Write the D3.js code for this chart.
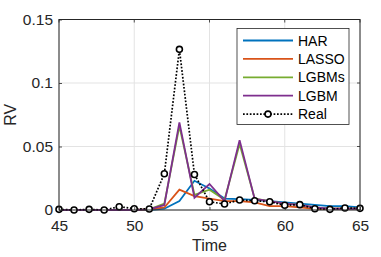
<!DOCTYPE html>
<html><head><meta charset="utf-8">
<script src="https://cdn.jsdelivr.net/npm/d3@7"></script>
<style>body{margin:0;background:#fff}svg{display:block}text{font-family:"Liberation Sans",Arial,sans-serif}</style>
</head><body><svg id="c" width="381" height="257"></svg>
<script>
const time = [45,46,47,48,49,50,51,52,53,54,55,56,57,58,59,60,61,62,63,64,65];
const har   = [0,0,0,0,0,0,0,0.001,0.007,0.023,0.017,0.009,0.0085,0.008,0.007,0.006,0.005,0.004,0.003,0.003,0.002];
const lasso = [0,0,0,0,0,0,0.0005,0.002,0.016,0.011,0.009,0.007,0.007,0.006,0.003,0.003,0.002,0.001,0.001,0.001,0.001];
const lgbms = [0,0,0,0,0,0,0.0005,0.005,0.066,0.012,0.016,0.008,0.052,0.009,0.007,0.005,0.004,0.002,0.001,0.001,0.001];
const lgbm  = [0,0,0,0,0,0,0.0005,0.004,0.069,0.0097,0.0205,0.007,0.055,0.0087,0.007,0.005,0.004,0.002,0.001,0.001,0.001];
const real  = [0.0005,0,0.0005,0,0.0026,0.001,0.0008,0.0286,0.1265,0.028,0.0065,0.0047,0.0079,0.0073,0.0065,0.0037,0.0042,0.001,0.0005,0.0016,0.0013];
const xTicks = [45,50,55,60,65];
const yTicks = [0,0.05,0.1,0.15];
const yTickLabels = ["0","0.05","0.1","0.15"];
const seriesNames = ["HAR","LASSO","LGBMs","LGBM","Real"];
const seriesColors = ["#0072BD","#D95319","#77AC30","#7E2F8E","#000000"];

const svg = d3.select("#c");
const L=59,R=360,T=19.5,B=210;
const x = d3.scaleLinear().domain([45,65]).range([L,R]);
const y = d3.scaleLinear().domain([0,0.15]).range([B,T]);
const ax = "#262626";

svg.append("g").selectAll("line").data(xTicks).join("line")
 .attr("x1",d=>x(d)).attr("x2",d=>x(d)).attr("y1",T).attr("y2",B)
 .attr("stroke","#e3e3e3").attr("stroke-width",1);
svg.append("g").selectAll("line").data(yTicks).join("line")
 .attr("y1",d=>y(d)).attr("y2",d=>y(d)).attr("x1",L).attr("x2",R)
 .attr("stroke","#e3e3e3").attr("stroke-width",1);

const series=[har,lasso,lgbms,lgbm];
const line = d3.line().x((d,i)=>x(time[i])).y(d=>y(d));
series.forEach((s,k)=>{
  svg.append("path").attr("d",line(s)).attr("fill","none")
   .attr("stroke",seriesColors[k]).attr("stroke-width",1.8).attr("stroke-linejoin","miter");
});
svg.append("path").attr("d",line(real)).attr("fill","none")
  .attr("stroke","#000").attr("stroke-width",1.7).attr("stroke-dasharray","1.7,1.7");
svg.append("g").selectAll("circle").data(real).join("circle")
  .attr("cx",(d,i)=>x(time[i])).attr("cy",d=>y(d)).attr("r",3)
  .attr("fill","#fff").attr("stroke","#000").attr("stroke-width",1.6);

const xa = svg.append("g").attr("transform",`translate(0,${B})`)
 .call(d3.axisBottom(x).tickValues(xTicks).tickSize(-3).tickPadding(10).tickFormat(d3.format("d")));
const ya = svg.append("g").attr("transform",`translate(${L},0)`)
 .call(d3.axisLeft(y).tickValues(yTicks).tickSize(-3).tickPadding(6).tickFormat((d,i)=>yTickLabels[i]));
[xa,ya].forEach(g=>{
  g.select(".domain").remove();
  g.selectAll("line").attr("stroke",ax).attr("stroke-width",0.8);
  g.selectAll("text").attr("fill",ax).attr("font-size",15.5);
});
svg.append("g").selectAll("line").data(xTicks).join("line")
 .attr("x1",d=>x(d)).attr("x2",d=>x(d)).attr("y1",T).attr("y2",T+3).attr("stroke",ax).attr("stroke-width",0.8);
svg.append("g").selectAll("line").data(yTicks).join("line")
 .attr("y1",d=>y(d)).attr("y2",d=>y(d)).attr("x1",R).attr("x2",R-3).attr("stroke",ax).attr("stroke-width",0.8);
svg.append("rect").attr("x",L).attr("y",T).attr("width",R-L).attr("height",B-T)
 .attr("fill","none").attr("stroke",ax).attr("stroke-width",1);

svg.append("text").attr("x",(L+R)/2).attr("y",251).attr("text-anchor","middle")
 .attr("fill",ax).attr("font-size",16).text("Time");
svg.append("text").attr("transform",`translate(16,${(T+B)/2}) rotate(-90)`).attr("text-anchor","middle")
 .attr("fill",ax).attr("font-size",16).text("RV");

const lg = svg.append("g");
lg.append("rect").attr("x",237).attr("y",28.5).attr("width",112).attr("height",96)
 .attr("fill","#fff").attr("stroke",ax).attr("stroke-width",0.8);
seriesNames.forEach((n,i)=>{
  const yy = 40.5+i*18.4;
  const l = lg.append("line").attr("x1",243).attr("x2",293).attr("y1",yy).attr("y2",yy)
    .attr("stroke",seriesColors[i]).attr("stroke-width",1.8);
  if(i===4){ l.attr("stroke-dasharray","1.7,1.7");
    lg.append("circle").attr("cx",268).attr("cy",yy).attr("r",3).attr("fill","#fff").attr("stroke","#000").attr("stroke-width",1.6);}
  lg.append("text").attr("x",298).attr("y",yy+5).attr("fill","#000").attr("font-size",14).text(n);
});
</script></body></html>
